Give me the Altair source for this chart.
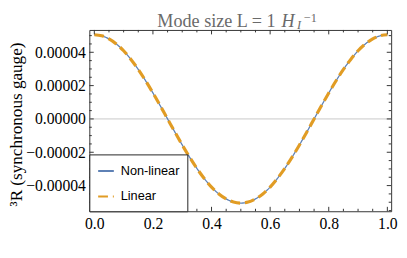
import altair as alt
import pandas as pd

# ---- data ----
x_vals = [0.0, 0.025, 0.05, 0.075, 0.1, 0.125, 0.15, 0.175, 0.2, 0.225, 0.25,
          0.275, 0.3, 0.325, 0.35, 0.375, 0.4, 0.425, 0.45, 0.475, 0.5,
          0.525, 0.55, 0.575, 0.6, 0.625, 0.65, 0.675, 0.7, 0.725, 0.75,
          0.775, 0.8, 0.825, 0.85, 0.875, 0.9, 0.925, 0.95, 0.975, 1.0]
nonlinear_e5 = [5.05, 4.99, 4.80, 4.50, 4.09, 3.57, 2.97, 2.29, 1.56, 0.79, 0.0,
                -0.79, -1.56, -2.29, -2.97, -3.57, -4.09, -4.50, -4.80, -4.99, -5.05,
                -4.99, -4.80, -4.50, -4.09, -3.57, -2.97, -2.29, -1.56, -0.79, 0.0,
                0.79, 1.56, 2.29, 2.97, 3.57, 4.09, 4.50, 4.80, 4.99, 5.05]
linear_e5 = [5.05, 4.99, 4.80, 4.50, 4.09, 3.57, 2.97, 2.29, 1.56, 0.79, 0.0,
             -0.79, -1.56, -2.29, -2.97, -3.57, -4.09, -4.50, -4.80, -4.99, -5.05,
             -4.99, -4.80, -4.50, -4.09, -3.57, -2.97, -2.29, -1.56, -0.79, 0.0,
             0.79, 1.56, 2.29, 2.97, 3.57, 4.09, 4.50, 4.80, 4.99, 5.05]
series_names = ["Non-linear", "Linear"]
series_colors = ["#5E81B5", "#E19C24"]

x_major = [0.0, 0.2, 0.4, 0.6, 0.8, 1.0]
x_minor = [0.05, 0.1, 0.15, 0.25, 0.3, 0.35, 0.45, 0.5, 0.55, 0.65, 0.7, 0.75, 0.85, 0.9, 0.95]
y_major = [-4e-5, -2e-5, 0.0, 2e-5, 4e-5]
y_minor = [-5.5e-5, -5e-5, -4.5e-5, -3.5e-5, -3e-5, -2.5e-5, -1.5e-5, -1e-5, -0.5e-5,
           0.5e-5, 1e-5, 1.5e-5, 2.5e-5, 3e-5, 3.5e-5, 4.5e-5, 5e-5]

W, H = 308, 185
SERIF = "Liberation Serif"
TITLE_GREY = "#6a6a6a"

df_nl = pd.DataFrame({"x": x_vals, "v": [v * 1e-5 for v in nonlinear_e5], "series": series_names[0]})
df_l = pd.DataFrame({"x": x_vals, "v": [v * 1e-5 for v in linear_e5], "series": series_names[1]})

xscale = alt.Scale(domain=[-0.017, 1.013], nice=False, zero=False)
yscale = alt.Scale(domain=[-5.54e-5, 5.34e-5], nice=False, zero=False)

color_scale = alt.Scale(domain=series_names, range=series_colors)
dash_scale = alt.Scale(domain=series_names, range=[[1, 0], [10, 5]])

legend = alt.Legend(title=None, orient="none", legendX=0, legendY=H - 58,
                    symbolType="stroke", symbolSize=256, symbolStrokeWidth=2,
                    labelFont="Liberation Sans", labelFontSize=13, labelColor="black",
                    labelOffset=6, rowPadding=10, padding=8,
                    strokeColor="#222", fillColor="white")

x_axis = alt.Axis(values=x_major, format=".1f", title=None, labelPadding=5,
                  labelFont=SERIF, labelFontSize=16, labelColor="black",
                  domain=False, ticks=False, grid=False)
y_axis = alt.Axis(values=y_major, format=".5f", labelPadding=4,
                  labelFont=SERIF, labelFontSize=16, labelColor="black",
                  domain=False, ticks=False, grid=False,
                  title="³R (synchronous gauge)", titleFont=SERIF,
                  titleFontSize=17.5, titleFontWeight="normal", titleColor="black",
                  titleX=-74, titleY=96, titleAngle=-90,
                  titleAlign="center", titleBaseline="middle")

def X(field="x"):
    return alt.X(f"{field}:Q", scale=xscale, axis=x_axis)

def Y(field="v"):
    return alt.Y(f"{field}:Q", scale=yscale, axis=y_axis)

def line_layer(df, width):
    return alt.Chart(df).mark_line(strokeWidth=width, interpolate="monotone").encode(
        x=X(), y=Y(),
        color=alt.Color("series:N", scale=color_scale, legend=legend),
        strokeDash=alt.StrokeDash("series:N", scale=dash_scale, legend=legend),
    )

blue = line_layer(df_nl, 1.3)
orange = line_layer(df_l, 3.2)

grid0 = alt.Chart(pd.DataFrame({"v": [0.0]})).mark_rule(color="#c8c8c8", strokeWidth=1).encode(y=Y())

tick_color = "#333"

def yticks(vals, length):
    d = pd.DataFrame({"v": vals})
    left = alt.Chart(d).mark_rule(color=tick_color, strokeWidth=1).encode(
        y=Y(), x=alt.value(0), x2=alt.value(length))
    right = alt.Chart(d).mark_rule(color=tick_color, strokeWidth=1).encode(
        y=Y(), x=alt.value(W - length), x2=alt.value(W))
    return [left, right]

def xticks(vals, length):
    d = pd.DataFrame({"x": vals})
    bottom = alt.Chart(d).mark_rule(color=tick_color, strokeWidth=1).encode(
        x=X(), y=alt.value(H - length), y2=alt.value(H))
    top = alt.Chart(d).mark_rule(color=tick_color, strokeWidth=1).encode(
        x=X(), y=alt.value(0), y2=alt.value(length))
    return [bottom, top]

tick_layers = yticks(y_major, 4.5) + yticks(y_minor, 2.5) + xticks(x_major, 4.5) + xticks(x_minor, 2.5)

# title pieces
title_main = alt.Chart(pd.DataFrame({"t": ["Mode size L = 1"]})).mark_text(
    font=SERIF, fontSize=18.5, color=TITLE_GREY, align="right", baseline="alphabetic"
).encode(x=alt.value(190), y=alt.value(-3.5), text="t:N")
title_h = alt.Chart(pd.DataFrame({"t": ["H"]})).mark_text(
    font=SERIF, fontSize=18.5, fontStyle="italic", color=TITLE_GREY, align="left", baseline="alphabetic"
).encode(x=alt.value(196), y=alt.value(-3.5), text="t:N")
title_sub = alt.Chart(pd.DataFrame({"t": ["I"]})).mark_text(
    font=SERIF, fontSize=12.5, fontStyle="italic", color=TITLE_GREY, align="left", baseline="alphabetic"
).encode(x=alt.value(212), y=alt.value(-1), text="t:N")
title_sup = alt.Chart(pd.DataFrame({"t": ["−1"]})).mark_text(
    font=SERIF, fontSize=12.5, color=TITLE_GREY, align="left", baseline="alphabetic"
).encode(x=alt.value(219), y=alt.value(-8.5), text="t:N")

chart = alt.layer(
    grid0, blue, orange, *tick_layers, title_main, title_h, title_sub, title_sup
).properties(
    width=W, height=H,
    autosize=alt.AutoSizeParams(type="none"),
    padding={"left": 83, "top": 20, "right": 8, "bottom": 30},
).configure_view(
    stroke="#333", strokeWidth=1
).configure_axis(
    labelFont=SERIF, titleFont=SERIF, labelColor="black",
    domain=False, ticks=False, grid=False
)

chart.save("out.html", embed_options={"renderer": "svg", "actions": False})
